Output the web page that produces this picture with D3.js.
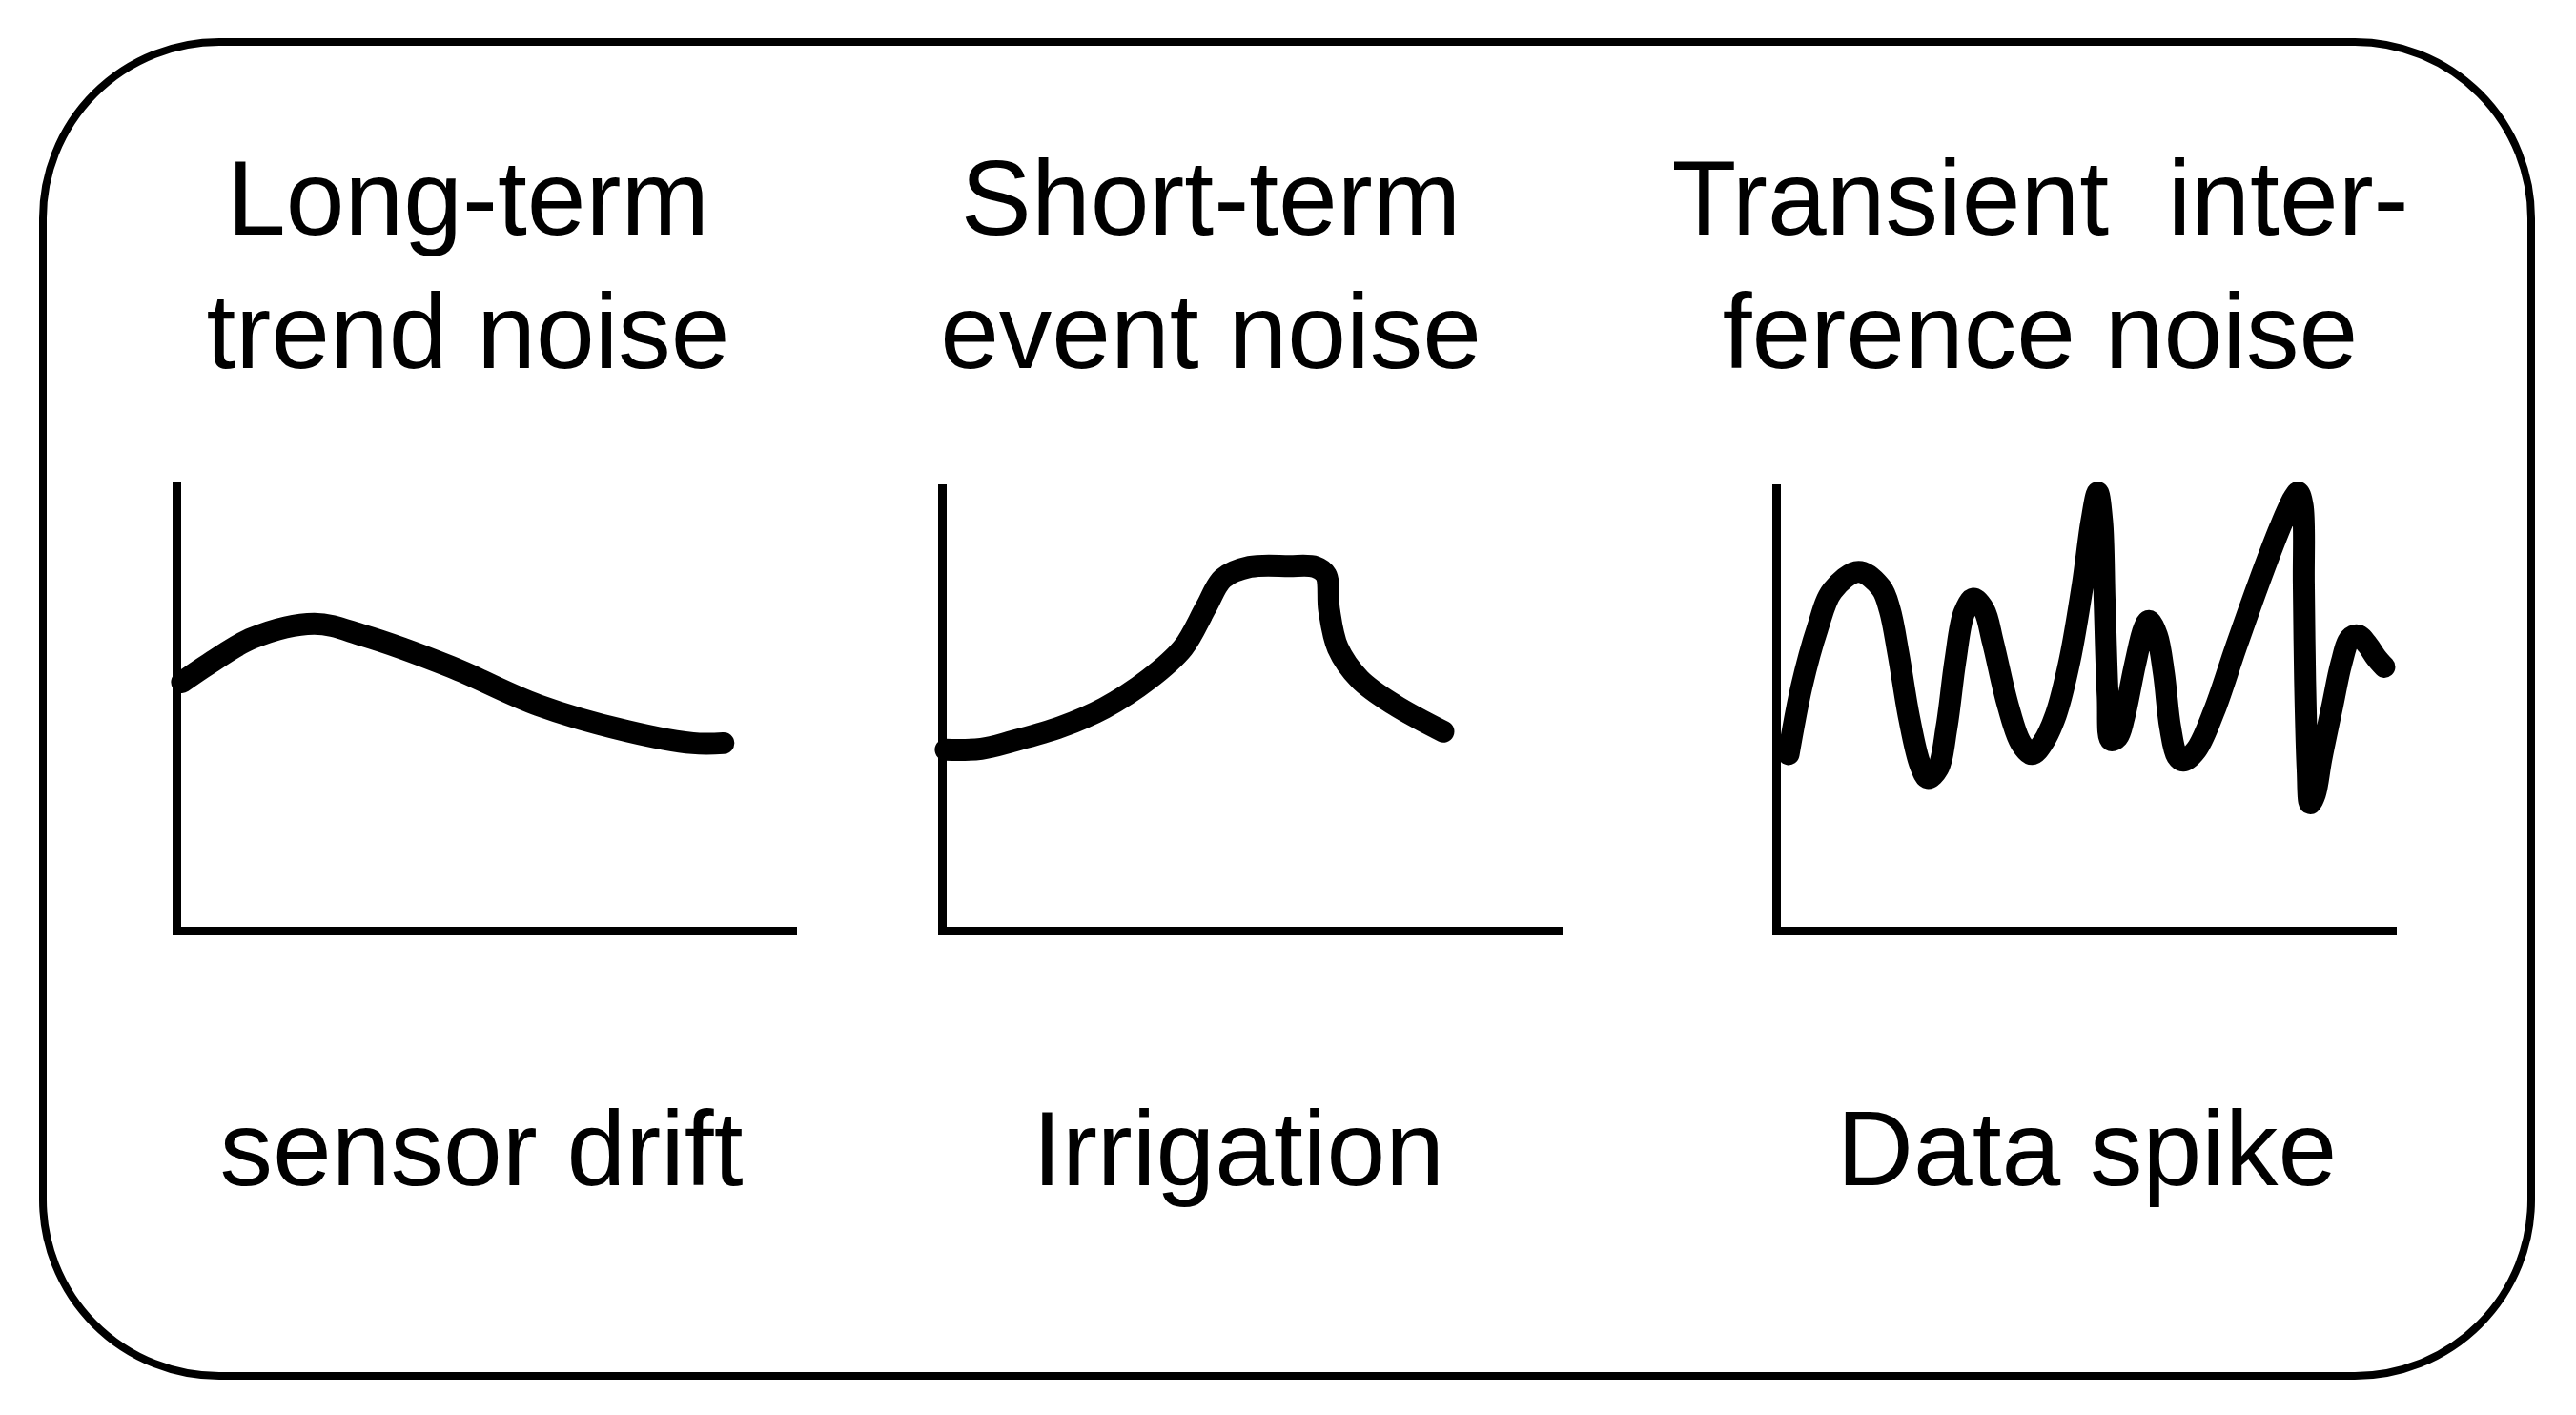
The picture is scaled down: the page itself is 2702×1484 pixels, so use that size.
<!DOCTYPE html>
<html>
<head>
<meta charset="utf-8">
<script src="https://cdn.jsdelivr.net/npm/d3@7"></script>
<style>
body { margin: 0; background: #fff; }
svg text { font-family: "Liberation Sans", Arial, Helvetica, sans-serif; font-size: 111px; fill: #000; white-space: pre; }
</style>
</head>
<body>
<svg id="chart" width="2702" height="1484"></svg>
<script>
// titles (two lines each) and the label under each sketch
var titles = [["Long-term", "trend noise"], ["Short-term", "event noise"], ["Transient  inter-", "ference noise"]];
var labels = ["sensor drift", "Irrigation", "Data spike"];

// sketched curves, x and y in 0..100 of each little plot
var sensorDrift = [[0.9,55.8],[5.2,59.9],[12.2,65.7],[22.1,68.9],[29.9,66.3],[44.0,59.2],[58.0,50.6],[72.2,44.8],[82.7,42.1],[87.6,42.1]];

var irrigation = [[0.6,40.9],[6.3,41.1],[11.3,42.8],[19.0,46.0],[26.0,50.3],[33.1,56.8],[38.6,63.9],[42.3,73.1],[45.0,79.6],
	[49.3,82.2],[55.6,82.4],[59.8,82.2],[61.5,80.4],[62.0,72.5],[63.4,63.9],[66.9,56.8],[72.5,51.0],[80.3,45.0]];

var dataSpike = [[2.0,39.9],[4.1,55.3],[6.6,68.2],[9.0,76.8],[13.2,81.1],[16.8,77.5],[18.2,72.5],[19.6,62.4],[21.3,48.1],
	[23.1,37.4],[24.3,34.5],[25.9,36.6],[27.3,46.0],[28.7,61.0],[30.1,71.8],[31.6,75.0],[33.3,72.5],[34.7,65.3],
	[37.1,51.0],[39.2,42.4],[41.0,39.9],[42.7,42.4],[44.8,48.8],[47.0,61.0],[49.1,78.2],[50.5,92.5],[51.5,99.0],
	[52.2,92.5],[52.6,74.6],[53.1,53.1],[53.6,43.1],[54.7,43.8],[55.7,48.1],[57.5,60.3],[58.9,68.2],[59.7,70.0],
	[61.0,66.7],[62.1,58.1],[63.1,46.0],[64.2,39.5],[65.2,38.4],[67.3,40.9],[70.1,49.5],[73.6,63.9],[77.2,78.2],
	[80.7,91.1],[82.8,97.6],[83.6,99.0],[84.3,96.1],[84.5,78.2],[84.7,56.7],[85.1,36.6],[85.5,28.8],[86.3,30.9],
	[87.3,38.8],[89.1,51.0],[90.5,60.3],[91.9,66.0],[93.2,66.7],[94.7,64.6],[96.1,61.7],[97.4,59.6]];

var series = [sensorDrift, irrigation, dataSpike];

var svg = d3.select("#chart");

// outer rounded frame
svg.append("rect")
	.attr("x", 45).attr("y", 44)
	.attr("width", 2610).attr("height", 1399)
	.attr("rx", 185).attr("ry", 185)
	.attr("fill", "none")
	.attr("stroke", "#000")
	.attr("stroke-width", 8);

var panels = [
	{left: 185, top: 509, titleX: 491, labelX: 505},
	{left: 988, top: 512, titleX: 1270, labelX: 1299},
	{left: 1863, top: 512, titleX: 2140, labelX: 2189}
];
var plotW = 655, axisW = 646, bottom = 976;

panels.forEach(function(p, i){
	// title lines
	svg.append("text").attr("x", p.titleX).attr("y", 246).attr("text-anchor", "middle").text(titles[i][0]);
	svg.append("text").attr("x", p.titleX).attr("y", 386).attr("text-anchor", "middle").text(titles[i][1]);
	svg.append("text").attr("x", p.labelX).attr("y", 1243).attr("text-anchor", "middle").text(labels[i]);

	var h = bottom - p.top;
	var x = d3.scaleLinear().domain([0, 100]).range([0, plotW]);
	var y = d3.scaleLinear().domain([0, 100]).range([h, 0]);
	var xAxisScale = d3.scaleLinear().domain([0, 100]).range([0, axisW]);

	var g = svg.append("g").attr("transform", "translate(" + p.left + "," + p.top + ")");

	g.append("g")
		.attr("transform", "translate(0," + h + ")")
		.call(d3.axisBottom(xAxisScale).tickValues([]).tickSizeOuter(0));
	g.append("g")
		.call(d3.axisLeft(y).tickValues([]).tickSizeOuter(0));
	g.selectAll(".domain")
		.attr("stroke", "#000")
		.attr("stroke-width", 9)
		.attr("stroke-linecap", "square");

	var line = d3.line()
		.x(function(d){ return x(d[0]); })
		.y(function(d){ return y(d[1]); })
		.curve(d3.curveCatmullRom.alpha(0.5));

	g.append("path")
		.datum(series[i])
		.attr("d", line)
		.attr("fill", "none")
		.attr("stroke", "#000")
		.attr("stroke-width", 23)
		.attr("stroke-linecap", "round")
		.attr("stroke-linejoin", "round");
});
</script>
</body>
</html>
